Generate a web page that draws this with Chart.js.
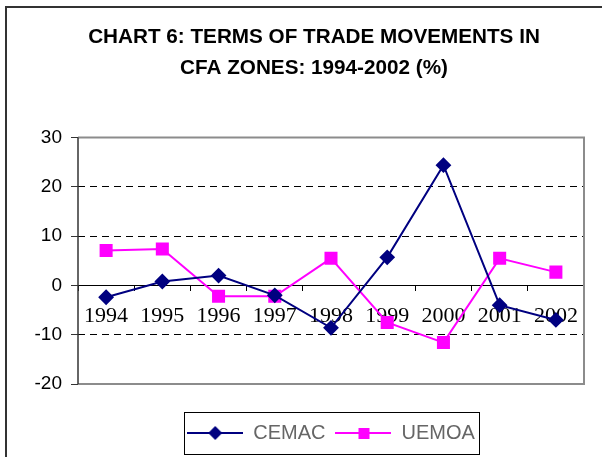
<!DOCTYPE html>
<html>
<head>
<meta charset="UTF-8">
<title>Chart 6</title>
<script src="https://cdn.jsdelivr.net/npm/chart.js@4.4.1/dist/chart.umd.min.js"></script>
<style>
  html, body { margin: 0; padding: 0; background: #fff; }
  #wrap { width: 602px; height: 457px; }
</style>
</head>
<body>
<div id="wrap"><canvas id="chart" width="602" height="457"></canvas></div>
<script>
const years = ['1994', '1995', '1996', '1997', '1998', '1999', '2000', '2001', '2002']
const cemac = [-2.4, 0.8, 2.0, -2.0, -8.6, 5.7, 24.4, -4.0, -7.0]
const uemoa = [7.1, 7.4, -2.2, -2.2, 5.5, -7.5, -11.6, 5.5, 2.7]
const titleLines = ['CHART 6: TERMS OF TRADE MOVEMENTS IN', 'CFA ZONES: 1994-2002 (%)']

// legend sample: short line with the marker in the middle
const legendIcon = (color, shape) => {
  let c = document.createElement('canvas')
  c.width = 56; c.height = 16
  let g = c.getContext('2d')
  g.strokeStyle = color; g.lineWidth = 2
  g.beginPath(); g.moveTo(0, 8); g.lineTo(56, 8); g.stroke()
  g.fillStyle = color
  g.beginPath()
  if (shape == 'diamond') {
    g.moveTo(28, 1); g.lineTo(35, 8); g.lineTo(28, 15); g.lineTo(21, 8)
  } else {
    g.rect(23, 3, 11, 11)
  }
  g.fill()
  return c
}

const frame = {
  id: 'frame',
  afterLayout(chart) {
    // the title sits a little right of the page centre
    chart.titleBlock.left += 18
  },
  beforeDraw(chart) {
    let ctx = chart.ctx
    ctx.save()
    ctx.strokeStyle = '#333'
    ctx.lineWidth = 2
    ctx.beginPath()
    ctx.moveTo(6, 457); ctx.lineTo(6, 7); ctx.lineTo(602, 7)
    ctx.stroke()
    ctx.restore()
  },
  afterDraw(chart) {
    let ctx = chart.ctx
    let a = chart.chartArea
    ctx.save()
    ctx.strokeStyle = '#8c8c8c'
    ctx.lineWidth = 2
    ctx.beginPath()
    ctx.moveTo(a.left, a.top); ctx.lineTo(a.right, a.top); ctx.lineTo(a.right, a.bottom); ctx.lineTo(a.left, a.bottom)
    ctx.stroke()
    ctx.strokeStyle = '#333'
    ctx.lineWidth = 1.5
    ctx.beginPath(); ctx.moveTo(a.left, a.top); ctx.lineTo(a.left, a.bottom); ctx.stroke()
    // box round the legend
    let boxes = chart.legend.legendHitBoxes
    if (boxes && boxes.length) {
      let l = Math.min(...boxes.map(b => b.left)) - 3
      let r = Math.max(...boxes.map(b => b.left + b.width)) + 4
      let mid = boxes[0].top + boxes[0].height / 2
      ctx.strokeStyle = '#000'
      ctx.lineWidth = 1
      ctx.strokeRect(Math.round(l) + 0.5, Math.round(mid - 21) + 0.5, Math.round(r - l), 42)
    }
    ctx.restore()
  }
}

let chart = new Chart(document.getElementById('chart').getContext('2d'), {
  type: 'line',
  data: {
    labels: years,
    datasets: [{
      label: 'CEMAC',
      data: cemac,
      borderColor: '#000080',
      backgroundColor: '#000080',
      borderWidth: 2,
      pointStyle: 'rectRot',
      pointRadius: 6.5,
      pointHoverRadius: 6.5,
      tension: 0
    }, {
      label: 'UEMOA',
      data: uemoa,
      borderColor: '#ff00ff',
      backgroundColor: '#ff00ff',
      borderWidth: 2,
      pointStyle: 'rect',
      pointRadius: 7.8,
      pointHoverRadius: 7.8,
      tension: 0
    }]
  },
  options: {
    responsive: false,
    animation: false,
    layout: { padding: { left: 26, right: 18, top: 6, bottom: 4 } },
    plugins: {
      title: {
        display: true,
        text: titleLines,
        color: '#000',
        font: { family: '"Liberation Sans", Arial, sans-serif', size: 20.7, weight: 'bold', lineHeight: 1.5 },
        padding: { top: 15.5, bottom: 54 }
      },
      legend: {
        position: 'bottom',
        fullSize: false,
        title: { display: true, text: '', font: { size: 1, lineHeight: 1 }, padding: { top: 28, bottom: 0 } },
        labels: {
          usePointStyle: true,
          pointStyleWidth: 56,
          color: '#000',
          font: { family: '"Liberation Sans", Arial, sans-serif', size: 20 },
          padding: 10,
          generateLabels: () => [
            { text: 'CEMAC', pointStyle: legendIcon('#000080', 'diamond'), fillStyle: '#000080', strokeStyle: '#000080', lineWidth: 0, datasetIndex: 0 },
            { text: 'UEMOA', pointStyle: legendIcon('#ff00ff', 'square'), fillStyle: '#ff00ff', strokeStyle: '#ff00ff', lineWidth: 0, datasetIndex: 1 }
          ]
        }
      },
      tooltip: { enabled: false }
    },
    scales: {
      x: {
        position: { y: 0 },
        offset: true,
        grid: { display: true, offset: true, drawOnChartArea: false, drawTicks: true, tickLength: 5, tickColor: '#000' },
        border: { display: true, color: '#000', width: 1 },
        ticks: {
          color: '#000',
          font: { family: '"Liberation Serif", "Times New Roman", serif', size: 22 },
          padding: 13,
          autoSkip: false,
          maxRotation: 0
        }
      },
      y: {
        min: -20,
        max: 30,
        afterFit: s => { s.width = 52 },
        ticks: {
          stepSize: 10,
          color: '#000',
          font: { family: '"Liberation Sans", Arial, sans-serif', size: 19 },
          padding: 9
        },
        grid: {
          color: c => (c.tick && (c.tick.value == 30 || c.tick.value == -20 || c.tick.value == 0)) ? 'rgba(0,0,0,0)' : '#000',
          lineWidth: 1,
          drawTicks: true,
          tickLength: 7,
          tickColor: '#333'
        },
        border: {
          display: false,
          dash: c => c.type == 'tick' ? [7, 5] : []
        }
      }
    }
  },
  plugins: [frame]
})
</script>
</body>
</html>
